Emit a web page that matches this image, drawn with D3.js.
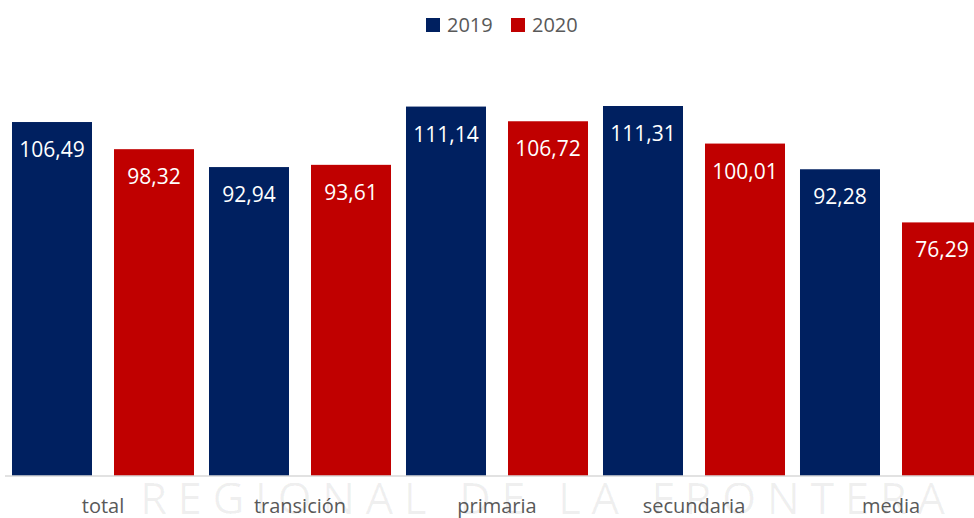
<!DOCTYPE html>
<html>
<head>
<meta charset="utf-8">
<script src="https://cdn.jsdelivr.net/npm/d3@7"></script>
<style>
  html, body { margin: 0; padding: 0; background: #ffffff; overflow: hidden; }
  svg { display: block; overflow: hidden; }
  text { font-family: "Open Sans", "Noto Sans", sans-serif; }
</style>
</head>
<body>
<svg id="chart" width="974" height="518"></svg>
<script>
const categories = ["total", "transición", "primaria", "secundaria", "media"];
const seriesNames = ["2019", "2020"];
const values2019 = [106.49, 92.94, 111.14, 111.31, 92.28];
const values2020 = [98.32, 93.61, 106.72, 100.01, 76.29];
const seriesColors = ["#002060", "#C00000"];
const watermarkText = "REGIONAL DE LA FRONTERA";

const svg = d3.select("#chart");

// faint watermark (background)
svg.append("text")
  .attr("x", 140).attr("y", 514)
  .attr("font-size", 44)
  .attr("textLength", 805)
  .attr("lengthAdjust", "spacing")
  .attr("fill", "#000")
  .attr("fill-opacity", 0.06)
  .text(watermarkText);

const x0 = d3.scaleBand().domain(categories).range([4.5, 989.5]).paddingInner(0).paddingOuter(0);
const x1 = d3.scaleBand().domain(seriesNames).range([0, x0.bandwidth()]).paddingInner(0.2157).paddingOuter(0.0735);
const y = d3.scaleLinear().domain([0, 140]).range([476, 10.64]);

const data = categories.map((c, i) => ({
  cat: c,
  vals: [{s: "2019", v: values2019[i], c: seriesColors[0]}, {s: "2020", v: values2020[i], c: seriesColors[1]}]
}));

const fmt = v => d3.format(".2f")(v).replace(".", ",");

const groups = svg.append("g").selectAll("g").data(data).join("g")
  .attr("transform", d => `translate(${x0(d.cat)},0)`);

groups.selectAll("rect").data(d => d.vals).join("rect")
  .attr("x", d => x1(d.s))
  .attr("width", x1.bandwidth())
  .attr("y", d => y(d.v))
  .attr("height", d => y(0) - y(d.v))
  .attr("fill", d => d.c);

groups.selectAll("text.lbl").data(d => d.vals).join("text")
  .attr("class", "lbl")
  .attr("x", d => x1(d.s) + x1.bandwidth() / 2)
  .attr("y", d => y(d.v) + 35)
  .attr("text-anchor", "middle")
  .attr("font-size", 21)
  .attr("fill", "#ffffff")
  .text(d => fmt(d.v));

// x axis
const xAxis = d3.axisBottom(x0).tickSize(0).tickPadding(19);
const ax = svg.append("g").attr("transform", `translate(0,${y(0)})`).call(xAxis);
ax.select(".domain").attr("stroke", "#d9d9d9").attr("stroke-width", 1.5).attr("d", `M5,0H974`);
ax.selectAll(".tick text")
  .attr("font-size", 20)
  .attr("fill", "#595959")
  .attr("font-family", "'Open Sans', sans-serif")
  .attr("dy", "0.9em");

// legend
const legend = svg.append("g");
const legX = [426, 511];
seriesNames.forEach((s, i) => {
  legend.append("rect").attr("x", legX[i]).attr("y", 18).attr("width", 14).attr("height", 14).attr("fill", seriesColors[i]);
  legend.append("text").attr("x", legX[i] + 21).attr("y", 32)
    .attr("font-size", 20).attr("fill", "#595959").text(s);
});
</script>
</body>
</html>
